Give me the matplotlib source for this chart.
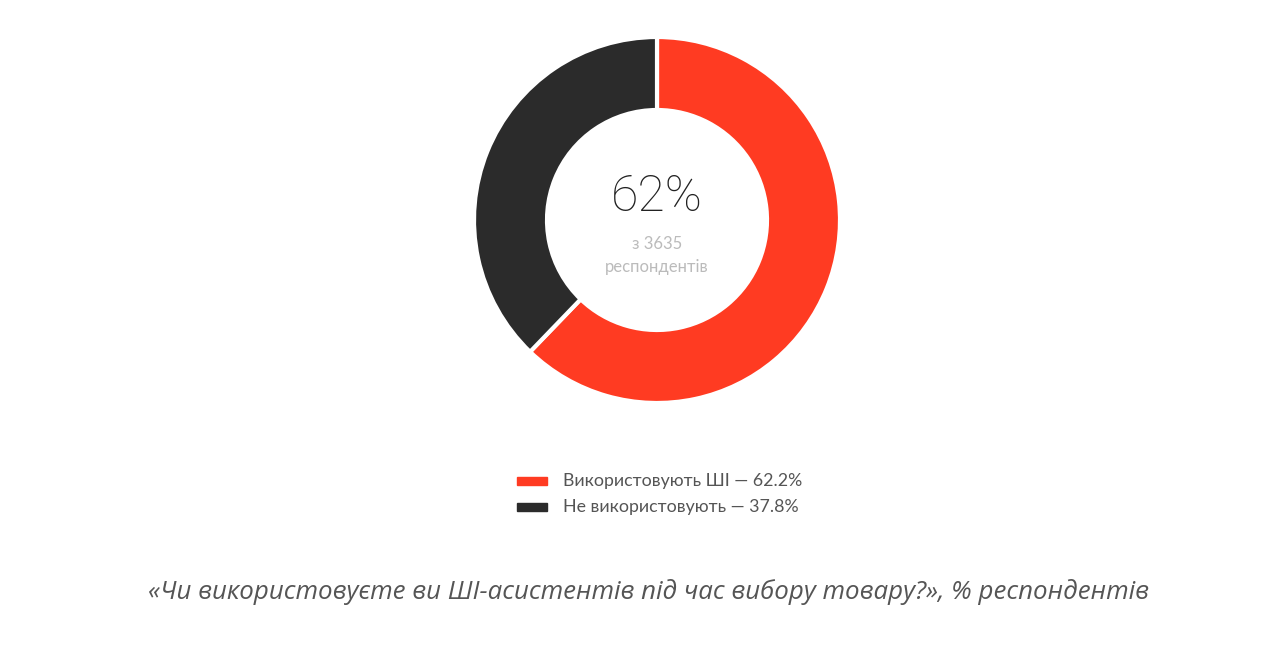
import matplotlib.pyplot as plt
from matplotlib.patches import Rectangle

# data
labels = ['Використовують ШІ', 'Не використовують']
shares = [62.2, 37.8]
colors = ['#FF3B22', '#2B2B2B']
total_respondents = 3635
title = '«Чи використовуєте ви ШІ-асистентів під час вибору товару?», % респондентів'

plt.rcParams['font.family'] = ['Lato', 'DejaVu Sans']

W, H = 1280, 645
fig = plt.figure(figsize=(W / 100, H / 100), dpi=100)
ax = fig.add_axes([0, 0, 1, 1])

cx, cy = 657, H - 220
ax.pie(shares, colors=colors, startangle=90, counterclock=False,
       radius=183, center=(cx, cy), frame=True,
       wedgeprops=dict(width=73, edgecolor='white', linewidth=3))
ax.set_xlim(0, W)
ax.set_ylim(0, H)
ax.axis('off')

ax.text(cx, H - 197, f'{round(shares[0])}%', ha='center', va='center',
        fontsize=36, family=['Roboto', 'DejaVu Sans'], fontweight='light',
        color='#222222')
ax.text(cx, H - 244, f'з {total_respondents}', ha='center', va='center',
        fontsize=12, color='#BBBBBB')
ax.text(cx, H - 267, 'респондентів', ha='center', va='center',
        fontsize=12, color='#BBBBBB')

# legend
for i, (lab, val, col) in enumerate(zip(labels, shares, colors)):
    y = H - 481 - i * 26
    ax.add_patch(Rectangle((517, y - 4), 30, 8, color=col))
    ax.text(563, y, f'{lab} — {val}%', ha='left', va='center',
            fontsize=12.8, color='#555555')

ax.text(649, H - 592, title, ha='center', va='center', fontsize=18.6,
        family=['Open Sans', 'DejaVu Sans'], style='italic', color='#555555')

fig.savefig('out.png', dpi=100)
